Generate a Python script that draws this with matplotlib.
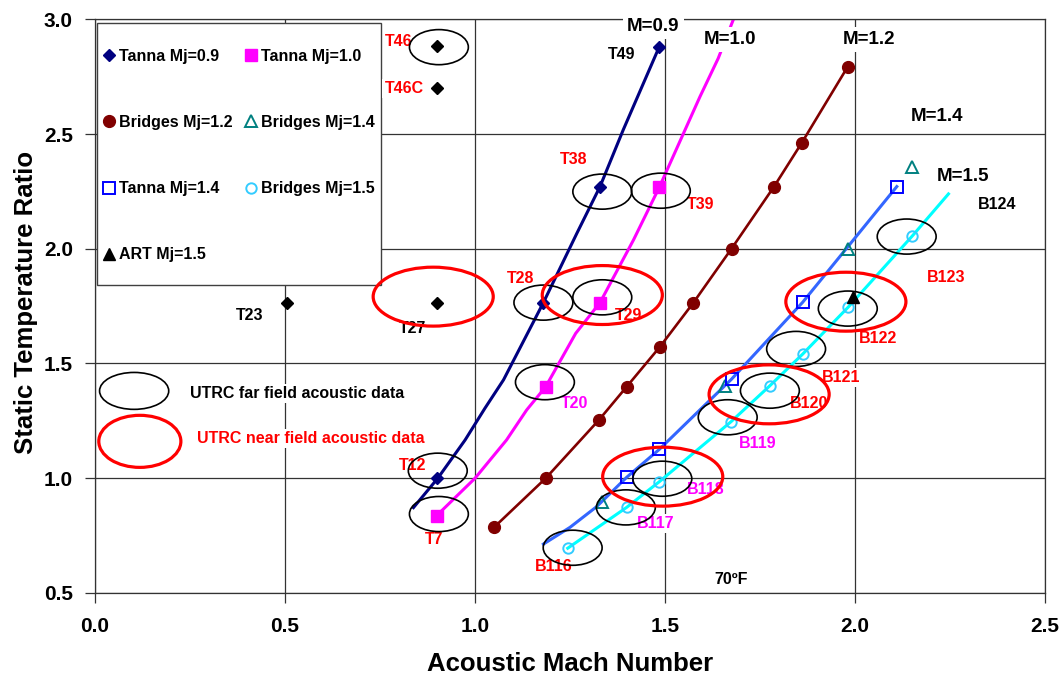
import matplotlib
matplotlib.use("Agg")
import matplotlib.pyplot as plt
from matplotlib.lines import Line2D
from matplotlib.patches import Ellipse, Rectangle
from matplotlib.ticker import FormatStrFormatter

plt.rcParams["font.family"] = ["Liberation Sans", "DejaVu Sans"]
plt.rcParams["font.weight"] = "bold"

# ---- measured jet conditions (acoustic Mach number, static temperature ratio) ----
tanna09_x = [0.900, 1.180, 1.329, 1.485]
tanna09_y = [1.000, 1.765, 2.271, 2.881]

tanna10_x = [0.899, 1.186, 1.329, 1.485]
tanna10_y = [0.836, 1.398, 1.765, 2.268]

bridges12_x = [1.050, 1.186, 1.326, 1.399, 1.487, 1.574, 1.675, 1.787, 1.860, 1.981]
bridges12_y = [0.785, 0.999, 1.253, 1.398, 1.573, 1.763, 2.000, 2.271, 2.462, 2.794]

bridges14_x = [1.333, 1.658, 1.982, 2.151]
bridges14_y = [0.897, 1.401, 1.998, 2.358]

tanna14_x = [1.399, 1.485, 1.675, 1.862, 2.110]
tanna14_y = [1.003, 1.125, 1.431, 1.766, 2.271]

bridges15_x = [1.244, 1.399, 1.485, 1.674, 1.775, 1.862, 1.982, 2.151]
bridges15_y = [0.694, 0.872, 0.984, 1.246, 1.401, 1.540, 1.745, 2.056]

art15_x = [1.996]
art15_y = [1.791]

# other Tanna points (off the constant-Mach curves)
other_x = [0.505, 0.899, 0.901, 0.901]
other_y = [1.765, 1.765, 2.700, 2.884]

# ---- constant jet Mach curves ----
curve09_x = [0.838, 0.902, 0.974, 1.026, 1.075, 1.180, 1.268, 1.329, 1.390, 1.485]
curve09_y = [0.871, 0.999, 1.166, 1.304, 1.428, 1.765, 2.067, 2.271, 2.518, 2.881]

curve10_x = [0.899, 1.000, 1.083, 1.136, 1.186, 1.265, 1.329, 1.417, 1.485, 1.592, 1.640, 1.680]
curve10_y = [0.836, 0.999, 1.166, 1.297, 1.398, 1.631, 1.765, 2.038, 2.268, 2.663, 2.830, 3.000]

curve14_x = [1.180, 1.250, 1.320, 1.399, 1.485, 1.675, 1.862, 2.110]
curve14_y = [0.712, 0.785, 0.875, 1.003, 1.125, 1.431, 1.766, 2.271]

curve15_x = [1.244, 1.399, 1.485, 1.674, 1.775, 1.862, 1.982, 2.151, 2.246]
curve15_y = [0.694, 0.872, 0.984, 1.246, 1.401, 1.540, 1.745, 2.056, 2.239]

# ---- UTRC acoustic data coverage ----
far_x = [0.905, 1.335, 1.489, 1.180, 1.335, 1.184, 0.902, 0.905,
         1.257, 1.397, 1.493, 1.665, 1.776, 1.845, 1.981, 2.136]
far_y = [2.879, 2.249, 2.253, 1.765, 1.788, 1.418, 1.032, 0.843,
         0.696, 0.872, 0.997, 1.265, 1.381, 1.563, 1.739, 2.053]
near_x = [0.890, 1.335, 1.976, 1.774, 1.494]
near_y = [1.791, 1.798, 1.769, 1.365, 1.006]

# ---- test point names ----
point_names = ["T46", "T46C", "T49", "T38", "T39", "T28", "T29", "T27", "T23", "T20",
               "T12", "T7", "B116", "B117", "B118", "B119", "B120", "B121", "B122",
               "B123", "B124", "70ºF"]
name_x = [0.800, 0.813, 1.385, 1.259, 1.595, 1.121, 1.403, 0.836, 0.408, 1.261,
          0.836, 0.892, 1.207, 1.476, 1.607, 1.745, 1.879, 1.964, 2.060,
          2.239, 2.375, 1.673]
name_y = [2.903, 2.700, 2.848, 2.387, 2.194, 1.871, 1.708, 1.653, 1.707, 1.326,
          1.054, 0.730, 0.613, 0.800, 0.948, 1.152, 1.326, 1.439, 1.609,
          1.876, 2.194, 0.558]
name_colors = ["red", "red", "black", "red", "red", "red", "red", "black", "black", "magenta",
               "red", "red", "red", "magenta", "magenta", "magenta", "red", "red", "red",
               "red", "black", "black"]

mach_labels = ["M=0.9", "M=1.0", "M=1.2", "M=1.4", "M=1.5"]
mach_x = [1.469, 1.671, 2.038, 2.217, 2.285]
mach_y = [2.968, 2.913, 2.913, 2.576, 2.317]

x_ticks = [0.0, 0.5, 1.0, 1.5, 2.0, 2.5]
y_ticks = [0.5, 1.0, 1.5, 2.0, 2.5, 3.0]

NAVY = "#000080"
MAGENTA = "#FF00FF"
BROWN = "#800000"
TEAL = "#008080"
BLUE = "#0000FF"
BLUE_LINE = "#3366FF"
CYAN = "#00FFFF"
CYAN_MK = "#33CCFF"

fig = plt.figure(figsize=(10.63, 6.75), dpi=100)
ax = fig.add_axes([95 / 1063, 82.3 / 675, 950 / 1063, 573.3 / 675])
ax.set_xlim(0, 2.5)
ax.set_ylim(0.5, 3.0)
ax.set_xticks(x_ticks)
ax.set_yticks(y_ticks)
ax.xaxis.set_major_formatter(FormatStrFormatter("%.1f"))
ax.yaxis.set_major_formatter(FormatStrFormatter("%.1f"))
ax.grid(True, color="#333333", lw=0.9)
ax.set_axisbelow(True)
for s in ax.spines.values():
    s.set_color("#333333")
    s.set_linewidth(0.9)
ax.tick_params(direction="out", length=7, width=0.9, color="#333333", labelsize=15)
ax.tick_params(axis="x", pad=10.5)
ax.tick_params(axis="y", pad=9)

# curves
ax.plot(curve09_x, curve09_y, color=NAVY, lw=2.2, zorder=2)
ax.plot(curve10_x, curve10_y, color=MAGENTA, lw=2.2, zorder=2)
ax.plot(bridges12_x, bridges12_y, color=BROWN, lw=1.9, zorder=2)
ax.plot(curve14_x, curve14_y, color=BLUE_LINE, lw=2.2, zorder=2)
ax.plot(curve15_x, curve15_y, color=CYAN, lw=2.2, zorder=2)

# markers
ax.plot(tanna09_x, tanna09_y, ls="none", marker="D", ms=6, color=NAVY, zorder=3)
ax.plot(tanna10_x, tanna10_y, ls="none", marker="s", ms=9, color=MAGENTA, zorder=3)
ax.plot(bridges12_x, bridges12_y, ls="none", marker="o", ms=8.5, color=BROWN, zorder=3)
ax.plot(bridges14_x, bridges14_y, ls="none", marker="^", ms=8, mfc="none", mec=TEAL,
        mew=1.4, zorder=3)
ax.plot(tanna14_x, tanna14_y, ls="none", marker="s", ms=8, mfc="none", mec=BLUE,
        mew=1.4, zorder=3)
ax.plot(bridges15_x, bridges15_y, ls="none", marker="o", ms=7.5, mfc="none", mec=CYAN_MK,
        mew=1.4, zorder=3)
ax.plot(art15_x, art15_y, ls="none", marker="^", ms=8, color="black", zorder=3)
ax.plot(other_x, other_y, ls="none", marker="D", ms=6, color="black", zorder=3)

# point names and Mach labels, white boxes knock out the grid behind them
box = dict(facecolor="white", edgecolor="none", pad=1.5)
for name, x, y, c in zip(point_names, name_x, name_y, name_colors):
    ax.text(x, y, name, color=c, fontsize=11.5, ha="center", va="center", bbox=box, zorder=4)
for lab, x, y in zip(mach_labels, mach_x, mach_y):
    ax.text(x, y, lab, color="black", fontsize=13.5, ha="center", va="center",
            bbox=dict(facecolor="white", edgecolor="none", pad=3), zorder=4, clip_on=False)

# far / near field data rings
for x, y in zip(far_x, far_y):
    ax.add_patch(Ellipse((x, y), 0.155, 0.153, fill=False, edgecolor="black", lw=1.2, zorder=6))
for x, y in zip(near_x, near_y):
    ax.add_patch(Ellipse((x, y), 0.316, 0.257, fill=False, edgecolor="red", lw=2.3, zorder=6))

# ring key
ax.add_patch(Ellipse((0.103, 1.380), 0.182, 0.161, fill=False, edgecolor="black", lw=1.2, zorder=6))
ax.add_patch(Ellipse((0.118, 1.160), 0.216, 0.227, fill=False, edgecolor="red", lw=2.3, zorder=6))
ax.text(0.250, 1.370, "UTRC far field acoustic data", color="black", fontsize=11.5,
        ha="left", va="center", bbox=box, zorder=4)
ax.text(0.268, 1.173, "UTRC near field acoustic data", color="red", fontsize=11.5,
        ha="left", va="center", bbox=box, zorder=4)

# legend panel
ax.add_patch(Rectangle((0.0045, 1.842), 0.747, 1.144, facecolor="white",
                       edgecolor="#404040", lw=1.0, zorder=3.5))
handles = [
    Line2D([], [], ls="none", marker="D", ms=6, color=NAVY),
    Line2D([], [], ls="none", marker="o", ms=8.5, color=BROWN),
    Line2D([], [], ls="none", marker="s", ms=8, mfc="none", mec=BLUE, mew=1.4),
    Line2D([], [], ls="none", marker="^", ms=8, color="black"),
    Line2D([], [], ls="none", marker="s", ms=9, color=MAGENTA),
    Line2D([], [], ls="none", marker="^", ms=8, mfc="none", mec=TEAL, mew=1.4),
    Line2D([], [], ls="none", marker="o", ms=7.5, mfc="none", mec=CYAN_MK, mew=1.4),
]
labels = ["Tanna Mj=0.9", "Bridges Mj=1.2", "Tanna Mj=1.4", "ART Mj=1.5",
          "Tanna Mj=1.0", "Bridges Mj=1.4", "Bridges Mj=1.5"]
leg = ax.legend(handles, labels, ncol=2, loc="upper left", bbox_to_anchor=(-0.005, 2.906),
                bbox_transform=ax.transData, frameon=False, fontsize=11.5, labelspacing=3.2,
                handlelength=1.0, handletextpad=0.15, columnspacing=0.6, borderpad=0.5,
                borderaxespad=0)
leg.set_zorder(5)

ax.set_xlabel("Acoustic Mach Number", fontsize=18.5, fontweight="bold")
ax.xaxis.set_label_coords(0.5, -0.136)
ax.xaxis.label.set_va("baseline")
ax.set_ylabel("Static Temperature Ratio", fontsize=18.5, fontweight="bold")
ax.yaxis.set_label_coords(-0.0726, 0.506)
ax.yaxis.label.set_va("center")

fig.savefig("out.png", dpi=100)
